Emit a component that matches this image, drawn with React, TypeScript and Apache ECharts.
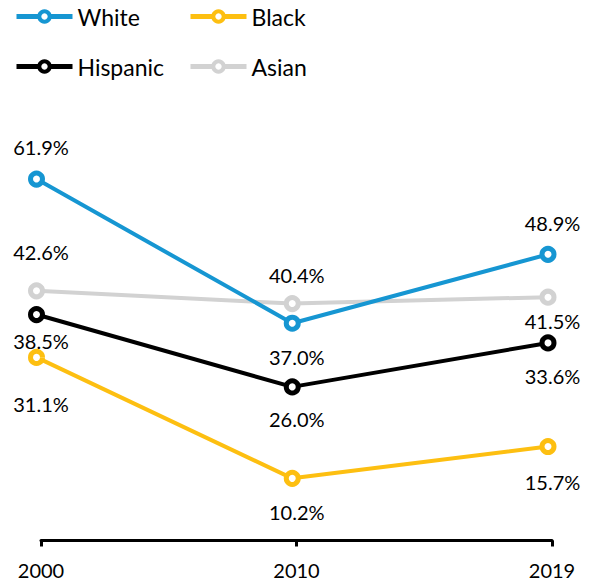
import React, { useEffect, useRef } from "react";
import * as echarts from "echarts";

const years = ["2000", "2010", "2019"];
const white = [61.9, 37.0, 48.9];
const black = [31.1, 10.2, 15.7];
const hispanic = [38.5, 26.0, 33.6];
const asian = [42.6, 40.4, 41.5];

// label vertical offsets (px) relative to point centre
const whiteOff = [-32, 33.5, -31];
const blackOff = [47, 34, 35];
const hispanicOff = [26, 32.5, 33.5];
const asianOff = [-39, -29, 24];

const FONT = "Lato";
const LABEL_DX = 4.5;

function mk(name: string, vals: number[], offs: number[], color: string) {
  return {
    name,
    type: "line",
    color,
    xAxisIndex: 0,
    yAxisIndex: 0,
    data: vals.map((v, i) => ({
      value: v,
      label: { offset: [LABEL_DX, offs[i]] },
    })),
    symbol: "circle",
    symbolSize: 12,
    lineStyle: { color, width: 4 },
    itemStyle: { color: "#ffffff", borderColor: color, borderWidth: 5 },
    label: {
      show: true,
      position: "inside",
      formatter: (p: any) => p.value.toFixed(1) + "%",
      fontFamily: FONT,
      fontSize: 20,
      color: "#000",
    },
    emphasis: { disabled: true },
  };
}

export default function App() {
  const ref = useRef<HTMLDivElement>(null);
  useEffect(() => {
    const chart = echarts.init(ref.current!, null, { renderer: "svg" });
    const legendCommon = {
      orient: "vertical",
      top: 5,
      padding: 0,
      itemWidth: 56,
      itemHeight: 13,
      itemGap: 27,
      lineStyle: { width: 5 },
      itemStyle: { borderWidth: 4 },
      textStyle: { fontFamily: FONT, fontSize: 23, color: "#000" },
      selectedMode: false,
    };
    chart.setOption({
      animation: false,
      textStyle: { fontFamily: FONT },
      legend: [
        { ...legendCommon, left: 14, data: ["White", "Hispanic"] },
        { ...legendCommon, left: 188, data: ["Black", "Asian"] },
      ],
      grid: [
        { left: 36.5, right: 41, top: 132.2, bottom: 44.6 },
        { left: 41, right: 37, top: 132, bottom: 41.5 },
      ],
      xAxis: [
        {
          gridIndex: 0,
          type: "category",
          data: years,
          boundaryGap: false,
          show: false,
        },
        {
          gridIndex: 1,
          type: "category",
          data: years,
          boundaryGap: false,
          axisLine: { lineStyle: { color: "#000", width: 3 } },
          axisTick: { show: true, length: 6, lineStyle: { color: "#000", width: 3 } },
          axisLabel: { fontFamily: FONT, fontSize: 20, color: "#000", margin: 19 },
        },
      ],
      yAxis: [
        { gridIndex: 0, type: "value", min: 0, max: 70, show: false, splitLine: { show: false } },
        { gridIndex: 1, type: "value", min: 0, max: 70, show: false, splitLine: { show: false } },
      ],
      series: [
        mk("Asian", asian, asianOff, "#d2d2d2"),
        mk("Black", black, blackOff, "#fdbf11"),
        mk("Hispanic", hispanic, hispanicOff, "#000000"),
        mk("White", white, whiteOff, "#1696d2"),
      ],
    });
    return () => chart.dispose();
  }, []);
  return <div ref={ref} style={{ width: 589, height: 582, position: "absolute", left: 0, top: 0 }} />;
}
